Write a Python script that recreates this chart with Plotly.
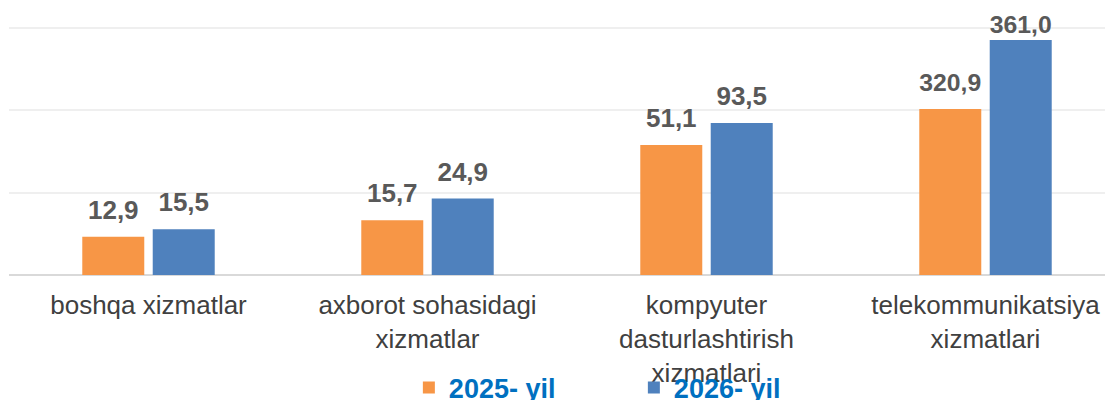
import plotly.graph_objects as go

categories = ["boshqa xizmatlar", "axborot sohasidagi<br>xizmatlar",
              "kompyuter<br>dasturlashtirish<br>xizmatlari", "telekommunikatsiya<br>xizmatlari"]
series_names = ["2025- yil", "2026- yil"]
# printed values
labels_2025 = ["12,9", "15,7", "51,1", "320,9"]
labels_2026 = ["15,5", "24,9", "93,5", "361,0"]
# bar heights as drawn in the picture (axis units, gridlines at 100/200/300)
heights_2025 = [46.6, 66.5, 157.8, 201.6]
heights_2026 = [55.6, 92.8, 184.5, 285.5]

colors = ["#F79646", "#4F81BD"]
FONT = "Arial, Liberation Sans, sans-serif"
# lift of value labels above bars (axis units, styling only)
pad_2025 = [11, 11, 11, 11]
pad_2026 = [11, 11, 11, -2]

fig = go.Figure()
for name, h, lab, col, grp, pad in [
    (series_names[0], heights_2025, labels_2025, colors[0], "a", pad_2025),
    (series_names[1], heights_2026, labels_2026, colors[1], "b", pad_2026),
]:
    fig.add_trace(go.Bar(x=categories, y=h, name=name, marker=dict(color=col, line_width=0),
                         offsetgroup=grp, hoverinfo="skip"))
    fig.add_trace(go.Bar(x=categories, y=[v + p for v, p in zip(h, pad)], showlegend=False,
                         marker=dict(color="rgba(0,0,0,0)", line_width=0),
                         offsetgroup=grp, text=lab, textposition="outside",
                         textfont=dict(family=FONT, size=26, color="#595959", weight="bold"),
                         cliponaxis=False, hoverinfo="skip"))

fig.update_layout(
    width=1105, height=392,
    margin=dict(l=1, r=0, t=18, b=125, autoexpand=False),
    paper_bgcolor="white", plot_bgcolor="white",
    barmode="group", bargap=0.495, bargroupgap=0.12,
    showlegend=True,
    legend=dict(orientation="h", x=0.566, xanchor="center", y=-0.454, yanchor="middle",
                entrywidth=180, entrywidthmode="pixels",
                font=dict(family=FONT, size=27, color="#0070C0", weight="bold"),
                bgcolor="rgba(0,0,0,0)", traceorder="normal"),
    xaxis=dict(type="category", range=[-0.5, 3.457], showgrid=False, showline=False,
               automargin=False,
               ticks="outside", ticklen=7, tickcolor="rgba(0,0,0,0)",
               tickfont=dict(family=FONT, size=26, color="#404040")),
    yaxis=dict(range=[0, 302.4], dtick=100, showticklabels=False, showgrid=True,
               automargin=False,
               gridcolor="#EFEFEF", gridwidth=2, zeroline=True, zerolinecolor="#D9D9D9",
               zerolinewidth=2, showline=False),
    font=dict(family=FONT),
)

fig.write_html("out.html")
